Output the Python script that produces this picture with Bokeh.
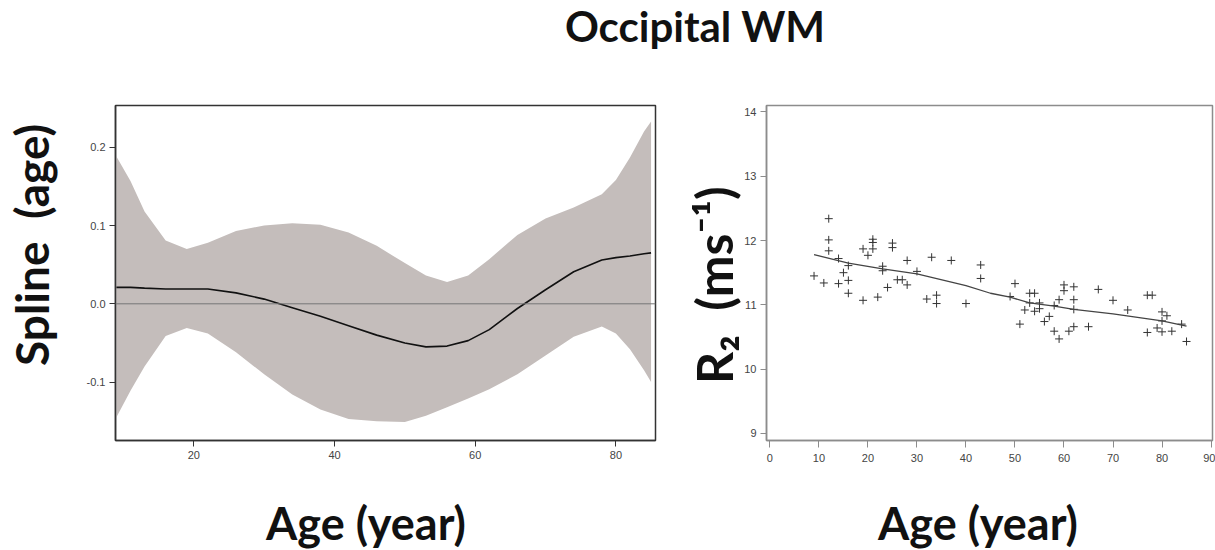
from bokeh.plotting import figure
from bokeh.models import Range1d, FixedTicker, NumeralTickFormatter, Span, Div
from bokeh.layouts import column, row
from bokeh.embed import file_html
from bokeh.resources import INLINE

# ---------------- data ----------------
title_text = "Occipital WM"

spline_age = [9, 11, 13, 16, 19, 22, 26, 30, 34, 38, 42, 46, 50, 53, 56, 59, 62, 66, 70, 74, 78, 80, 82, 84, 85]
spline_fit = [0.021, 0.021, 0.020, 0.019, 0.019, 0.019, 0.014, 0.006, -0.005, -0.016, -0.028, -0.040,
              -0.050, -0.055, -0.054, -0.047, -0.033, -0.006, 0.018, 0.041, 0.056, 0.059, 0.061, 0.064, 0.065]
spline_upper = [0.188, 0.157, 0.118, 0.081, 0.070, 0.078, 0.093, 0.100, 0.103, 0.101, 0.091, 0.074,
                0.052, 0.036, 0.028, 0.036, 0.057, 0.088, 0.109, 0.123, 0.140, 0.158, 0.187, 0.220, 0.233]
spline_lower = [-0.145, -0.111, -0.080, -0.041, -0.031, -0.038, -0.062, -0.090, -0.116, -0.135, -0.147, -0.150,
                -0.151, -0.143, -0.132, -0.121, -0.109, -0.090, -0.066, -0.042, -0.029, -0.038, -0.058, -0.085, -0.100]
spline_xticks = [20, 40, 60, 80]
spline_yticks = [-0.1, 0.0, 0.1, 0.2]

r2_age = [9, 11, 12, 12, 12, 14, 14, 15, 16, 16, 16, 19, 19, 20, 21, 21, 21, 22, 23, 23, 24, 25, 25, 26, 27,
          28, 28, 30, 32, 33, 34, 34, 37, 40, 43, 43,
          49, 50, 51, 52, 53, 53, 54, 54, 55, 55, 56, 57, 58, 58, 59, 59, 60, 60, 61, 62, 62, 62, 62, 65,
          67, 70, 73, 77, 78, 77, 79, 80, 81, 80, 80, 82, 84, 85]
r2_val = [11.45, 11.34, 12.34, 12.01, 11.84, 11.72, 11.33, 11.50, 11.61, 11.38, 11.18, 11.87, 11.07, 11.77,
          12.02, 11.97, 11.87, 11.12, 11.60, 11.53, 11.27, 11.96, 11.89, 11.39, 11.39,
          11.69, 11.31, 11.52, 11.09, 11.74, 11.15, 11.02, 11.69, 11.02, 11.62, 11.41,
          11.13, 11.33, 10.70, 10.92, 11.18, 11.03, 11.18, 10.90, 11.03, 10.94, 10.74, 10.82, 10.99, 10.59,
          11.08, 10.47, 11.31, 11.22, 10.59, 11.28, 11.08, 10.93, 10.66, 10.66,
          11.24, 11.07, 10.92, 11.15, 11.15, 10.57, 10.64, 10.89, 10.83, 10.75, 10.58, 10.59, 10.70, 10.43]
r2_fit_age = [9, 16, 23, 30, 40, 45, 49, 53, 58, 62, 70, 80, 85]
r2_fit_val = [11.78, 11.65, 11.56, 11.48, 11.30, 11.18, 11.12, 11.03, 10.98, 10.93, 10.86, 10.75, 10.67]
r2_xticks = [0, 10, 20, 30, 40, 50, 60, 70, 80, 90]
r2_yticks = [9, 10, 11, 12, 13, 14]

x_label = "Age (year)"
spline_ylabel = "Spline&nbsp; (age)"
r2_ylabel = "R\u2082&nbsp; (ms\u207b\u00b9)"

BIG_FONT = "Lato"
TICK_FONT = "Liberation Sans"

# ---------------- layout (page pixels) ----------------
W, H = 1215, 550
TH = 58            # title strip
BH = 75            # bottom strip holding the x labels
MH = H - TH - BH   # plot row height
L1W = 60           # strip with the left y label
P1W = 614          # left figure
L2W = 66           # strip with the right y label
P2W = W - L1W - P1W - L2W
F1 = dict(left=115, right=655, top=105, bottom=440)    # left frame, page px
F2 = dict(left=766, right=1212, top=104, bottom=440)   # right frame, page px

BOLD = "font-family:Lato; font-weight:bold; color:#111111; white-space:nowrap;"


def strip(width, height, inner):
    return Div(text=f'<div style="position:relative; width:{width}px; height:{height}px;">{inner}</div>',
               width=width, height=height, margin=(0, 0, 0, 0))


def vtext(text, size, baseline_x, start_y):
    # rotated (reads bottom to top); baseline at baseline_x, text starts at start_y (strip coords)
    b = (size - 1.2 * size) / 2 + 0.987 * size
    return (f'<span style="position:absolute; left:{baseline_x - b:.1f}px; top:{start_y}px; '
            f'transform-origin:0 0; transform:rotate(-90deg); font-size:{size}px; '
            f'line-height:{size}px; {BOLD}">{text}</span>')


def htext(text, size, center_x, baseline_y):
    b = (size - 1.2 * size) / 2 + 0.987 * size
    return (f'<span style="position:absolute; left:{center_x - 200}px; width:400px; '
            f'top:{baseline_y - b:.1f}px; text-align:center; font-size:{size}px; '
            f'line-height:{size}px; {BOLD}">{text}</span>')


title_div = strip(W, TH, htext(title_text, 42, 695, 42))
ylab1 = strip(L1W, MH, vtext(spline_ylabel, 46, 50, 366 - TH))
ylab2 = strip(L2W, MH, vtext(r2_ylabel, 50, 733 - (L1W + P1W), 384 - TH))
xlabs = strip(W, BH, htext(x_label, 45, 366, 541 - TH - MH) + htext(x_label, 45, 978, 541 - TH - MH))


def style(p, edge):
    p.xgrid.visible = False
    p.ygrid.visible = False
    p.outline_line_color = edge
    p.outline_line_width = 1.5
    p.axis.axis_line_color = edge
    p.axis.axis_line_width = 1.5
    p.axis.major_tick_line_color = edge
    p.axis.major_tick_in = 0
    p.axis.major_tick_out = 6
    p.axis.major_label_standoff = 4
    p.axis.minor_tick_line_color = None
    p.axis.major_label_text_font = TICK_FONT
    p.axis.major_label_text_font_size = "11px"
    p.axis.major_label_text_color = "#444444"


# ---------------- left: spline ----------------
p1 = figure(width=P1W, height=MH, x_range=Range1d(8.87, 85.63), y_range=Range1d(-0.1746, 0.2533),
            title=None, toolbar_location=None, output_backend="svg",
            min_border_left=F1["left"] - L1W, min_border_right=L1W + P1W - F1["right"],
            min_border_top=F1["top"] - TH, min_border_bottom=TH + MH - F1["bottom"])
style(p1, "#333333")
p1.varea(x=spline_age, y1=spline_lower, y2=spline_upper, fill_color="#c4bdbb")
p1.add_layout(Span(location=0, dimension="width", line_color="#777777", line_width=1))
p1.line(spline_age, spline_fit, line_color="#111111", line_width=1.6)
p1.xaxis.ticker = FixedTicker(ticks=spline_xticks)
p1.yaxis.ticker = FixedTicker(ticks=spline_yticks)
p1.yaxis.formatter = NumeralTickFormatter(format="0.0")

# ---------------- right: R2 scatter ----------------
x2_0 = L1W + P1W + L2W
p2 = figure(width=P2W, height=MH, x_range=Range1d(-0.7, 90.3), y_range=Range1d(8.89, 14.10),
            title=None, toolbar_location=None, output_backend="svg",
            min_border_left=F2["left"] - x2_0, min_border_right=W - F2["right"],
            min_border_top=F2["top"] - TH, min_border_bottom=TH + MH - F2["bottom"])
style(p2, "#8c8c8c")
p2.xaxis.major_tick_out = 7
p2.xaxis.major_label_standoff = 6
p2.scatter(r2_age, r2_val, marker="cross", size=8, line_color="#333333", line_width=1)
p2.line(r2_fit_age, r2_fit_val, line_color="#444444", line_width=1.3)
p2.xaxis.ticker = FixedTicker(ticks=r2_xticks)
p2.yaxis.ticker = FixedTicker(ticks=r2_yticks)

layout = column(title_div, row(ylab1, p1, ylab2, p2), xlabs)
open("out.html", "w").write(file_html(layout, INLINE))
